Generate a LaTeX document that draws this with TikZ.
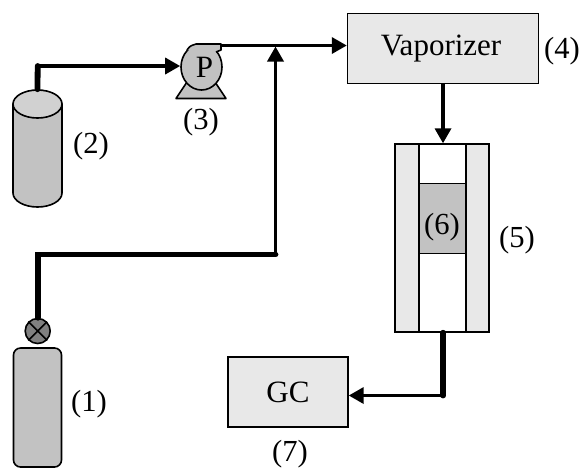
\documentclass[tikz,border=0pt]{standalone}
\usepackage{fontspec}
\setmainfont{Liberation Serif}
\usepackage{xcolor}
\usepackage{tikz}
\usetikzlibrary{positioning, arrows.meta, shapes.geometric}
\definecolor{boxgray}{gray}{0.91}
\definecolor{tankgray}{gray}{0.76}
\tikzset{
    unitbox/.style={rectangle, draw, line width=0.7pt, fill=boxgray, inner sep=0pt, font=\fontsize{15.5}{18}\selectfont},
    tag/.style={inner sep=0pt, font=\fontsize{15.3}{18}\selectfont},
    thickpipe/.style={line width=2.9pt, line cap=round},
    arrow/.style={-{Triangle[length=7.5pt, width=8pt]}, line width=1.7pt},
    outline/.style={draw, line width=0.8pt, line join=round, fill=tankgray}
}
\begin{document}
\begin{tikzpicture}[x=0.5pt, y=-0.5pt]
        \useasboundingbox (0,0) rectangle (582,468);
        % Gas cylinders and valve
        \draw[outline] (13,104) -- (13,193) arc[start angle=180, end angle=0, x radius=24.5, y radius=14] -- (62,104) -- cycle;
        \node[ellipse, outline, fill=tankgray!75!white, minimum width=24.5pt, minimum height=14pt, inner sep=0pt] (tank2) at (37.5,104) {};
        \node[rectangle, rounded corners=3.5pt, outline, minimum width=24pt, minimum height=59.5pt, inner sep=0pt] (tank1) at (37.5,407.5) {};
        \node[circle, outline, fill=gray, minimum size=12.5pt, inner sep=0pt] (valve) at (37.7,331) {};
        \draw[line width=0.8pt] (valve.north west) -- (valve.south east) (valve.north east) -- (valve.south west);

        % Pump with base and outlet
        \draw[outline] (176,98.5) -- (187,82) -- (215,82) -- (226,98.5) -- cycle;
        \node[ellipse, outline, minimum width=20.5pt, minimum height=23pt, inner sep=0pt, font=\fontsize{15.5}{18}\selectfont] (pump) at (201.5,67) {\hspace*{3pt}\raisebox{-1.5pt}{P}};
        \draw[outline] (187,50) .. controls (190,46) .. (196,44) -- (221,44) -- (221,50) -- (216,52);

        % Units
        \node[unitbox, minimum width=95.5pt, minimum height=35pt] (vaporizer) at (443,48.5) {\raisebox{-2pt}{Vaporizer}\kern2pt};
        \node[unitbox, minimum width=60pt, minimum height=35pt] (gc) at (288,392) {GC};
        \node[unitbox, minimum width=47pt, minimum height=94pt] (reactor) at (442,238) {};
        \node[rectangle, draw, line width=0.7pt, fill=white, minimum width=23.5pt, minimum height=94pt, inner sep=0pt] (tube) at (442.5,238) {};
        \node[rectangle, draw, line width=0.7pt, fill=tankgray, minimum width=23.5pt, minimum height=35pt, inner sep=0pt] (bed) at (442.5,218.5) {};

        % Free ends of the pipes
        \coordinate (c2) at (37.7,254.5);
        \coordinate (c3) at (275.5,254.5);
        \coordinate (c4) at (275.5,46.5);
        \coordinate (c5) at (37.7,66);
        \coordinate (c6) at (221,45.5);
        \coordinate (c7) at (443.3,395.5);

        % Pipes
        \draw[thickpipe] (valve.north) -- (c2) -- (c3);
        \draw[arrow] (c3) -- (c4);
        \draw[thickpipe] (tank2.north) -- (c5);
        \draw[arrow] (c5) -- (pump.west |- c5);
        \draw[arrow] (c6) -- (vaporizer.west |- c6);
        \draw[arrow] (vaporizer.south) -- (vaporizer.south |- reactor.north);
        \draw[thickpipe] (reactor.south -| c7) -- (c7);
        \draw[arrow] (c7) -- (gc.east |- c7);

        % Labels
        \node[tag] (tag1) at (89,404) {(1)};
        \node[tag] (tag2) at (91,146) {(2)};
        \node[tag] (tag3) at (201,122) {(3)};
        \node[tag] (tag4) at (562,51) {(4)};
        \node[tag] (tag5) at (517,240) {(5)};
        \node[tag] (tag6) at (442,227) {(6)};
        \node[tag] (tag7) at (290,454) {(7)};
    \end{tikzpicture}
\end{document}
